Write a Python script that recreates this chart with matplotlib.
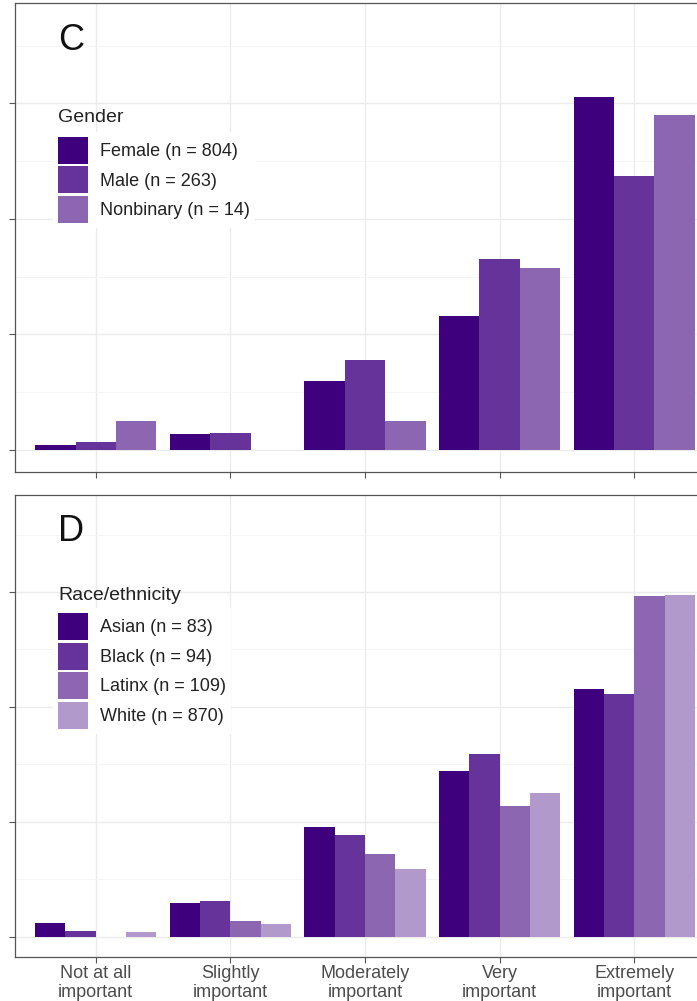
import matplotlib
matplotlib.use("Agg")
import matplotlib.pyplot as plt
import numpy as np

plt.rcParams['font.family'] = ['Liberation Sans', 'DejaVu Sans']

categories = ["Not at all\nimportant", "Slightly\nimportant", "Moderately\nimportant",
              "Very\nimportant", "Extremely\nimportant"]

# panel C - gender (proportions)
gender_labels = ["Female (n = 804)", "Male (n = 263)", "Nonbinary (n = 14)"]
female = [0.009, 0.028, 0.119, 0.232, 0.612]
male = [0.013, 0.030, 0.155, 0.330, 0.474]
nonbinary = [0.051, 0.0, 0.051, 0.316, 0.580]

# panel D - race/ethnicity (proportions)
race_labels = ["Asian (n = 83)", "Black (n = 94)", "Latinx (n = 109)", "White (n = 870)"]
asian = [0.024, 0.059, 0.191, 0.289, 0.432]
black = [0.010, 0.063, 0.177, 0.318, 0.423]
latinx = [0.0, 0.027, 0.144, 0.228, 0.593]
white = [0.009, 0.022, 0.118, 0.250, 0.595]

cols = ["#3f007d", "#65339a", "#8c66b1", "#b299cb"]

W, H = 697, 1001
fig = plt.figure(figsize=(W / 100, H / 100), dpi=100)

# axes boxes in pixels (left, top, right, bottom); right edge runs past the figure
axC = fig.add_axes([15 / W, (H - 472) / H, 700 / W, 469 / H])
axD = fig.add_axes([15 / W, (H - 957) / H, 700 / W, 462 / H])


def draw(ax, series, labels, title, letter, ylim, show_xlabels, title_y, leg_y):
    n = len(series)
    x = np.arange(1, len(categories) + 1)
    w = 0.9 / n
    for i, (vals, lab) in enumerate(zip(series, labels)):
        ax.bar(x - 0.45 + w * (i + 0.5), vals, width=w, color=cols[i], label=lab,
               linewidth=0, zorder=3)
    ax.set_xlim(0.4, 5.6)
    ax.set_ylim(*ylim)
    ax.set_yticks([0, 0.2, 0.4, 0.6])
    ax.set_yticks([0.1, 0.3, 0.5, 0.7], minor=True)
    ax.set_yticklabels([])
    ax.set_xticks(x)
    if show_xlabels:
        ax.set_xticklabels(categories, fontsize=13, color="#4d4d4d", linespacing=1.1)
    else:
        ax.set_xticklabels([])
    ax.grid(True, which="major", color="#ebebeb", linewidth=1.0, zorder=0)
    ax.grid(True, which="minor", axis="y", color="#f4f4f4", linewidth=0.6, zorder=0)
    ax.set_axisbelow(True)
    ax.tick_params(axis="both", which="major", length=4, width=0.8, color="#555555", pad=2)
    ax.tick_params(axis="y", which="minor", length=0)
    for s in ax.spines.values():
        s.set_color("#555555")
        s.set_linewidth(0.9)
    ax.text(0.061, 0.921, letter, transform=ax.transAxes, fontsize=26,
            va="center", ha="left", color="#111111")
    leg = ax.legend(loc="upper left", bbox_to_anchor=(0.0537, leg_y), borderaxespad=0,
                    fontsize=13, handlelength=1.66, handleheight=1.92,
                    labelspacing=0.14, handletextpad=0.66, frameon=True,
                    fancybox=False, borderpad=0.3, framealpha=1)
    leg.get_frame().set_edgecolor("none")
    leg.get_frame().set_facecolor("white")
    for t in leg.get_texts():
        t.set_color("#222222")
    ax.text(0.0614, title_y, title, transform=ax.transAxes, fontsize=14,
            va="center", ha="left", color="#222222", zorder=6)


draw(axC, [female, male, nonbinary], gender_labels, "Gender", "C",
     (-0.0381, 0.774), False, 0.755, 0.726)
draw(axD, [asian, black, latinx, white], race_labels, "Race/ethnicity", "D",
     (-0.0348, 0.7687), True, 0.7835, 0.756)

fig.savefig("out.png", dpi=100)
